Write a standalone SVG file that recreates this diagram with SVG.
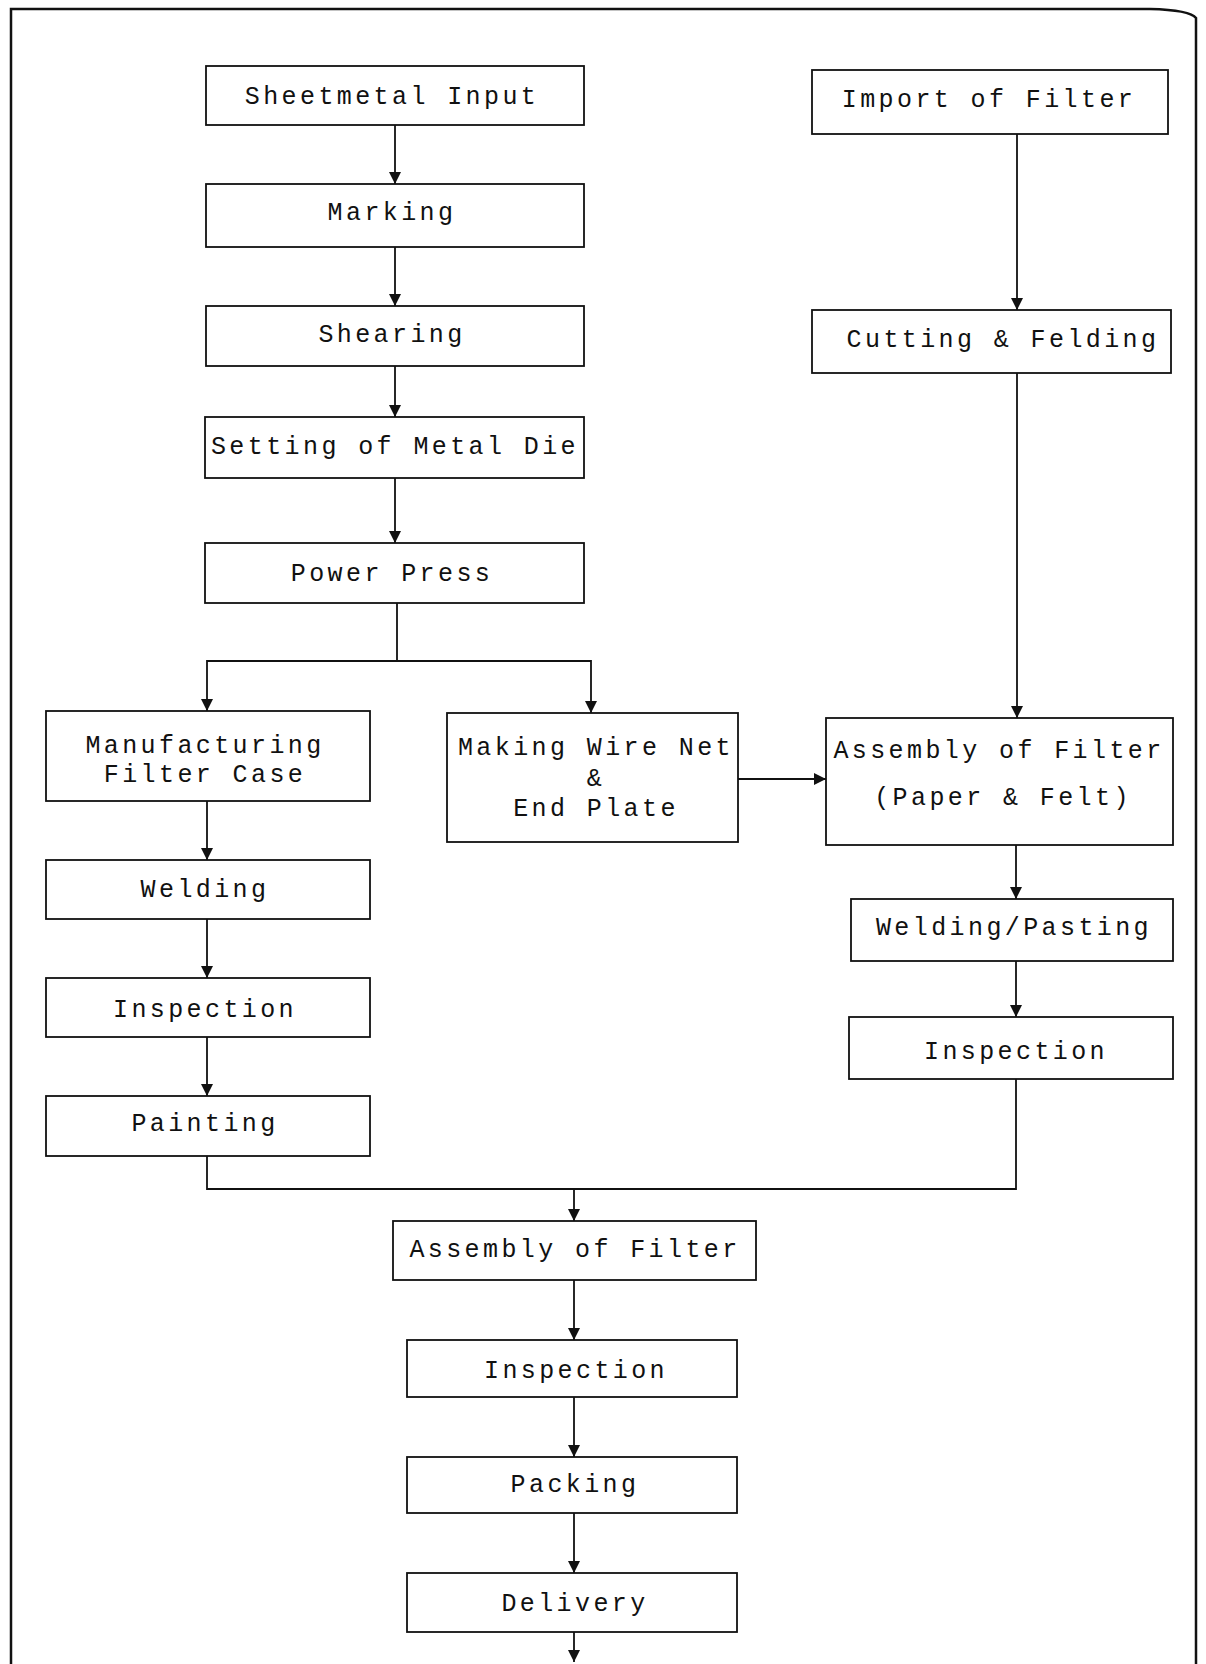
<svg xmlns="http://www.w3.org/2000/svg" width="1206" height="1664" viewBox="0 0 1206 1664">
<defs>
<style>
.box{fill:none;stroke:#111;stroke-width:1.8}
.t{font-family:"Liberation Mono","DejaVu Sans Mono",monospace;font-size:25px;letter-spacing:3.4px;fill:#111;text-anchor:middle}
.c{fill:none;stroke:#111;stroke-width:1.8}
.frame{fill:none;stroke:#111;stroke-width:2.5}
</style>
<marker id="ah" viewBox="0 0 10 10" refX="10" refY="5" markerWidth="14" markerHeight="12" markerUnits="userSpaceOnUse" orient="auto">
<path d="M0,0 L10,5 L0,10 Z" fill="#111"/>
</marker>
</defs>
<rect width="1206" height="1664" fill="#fff"/>
<path class="frame" d="M11,1664 L11,9 L1150,9 Q1190,10 1196,18 L1196,1664"/>

<g id="connectors">
<path class="c" d="M395,125 L395,184" marker-end="url(#ah)"/>
<path class="c" d="M395,247 L395,306" marker-end="url(#ah)"/>
<path class="c" d="M395,366 L395,417" marker-end="url(#ah)"/>
<path class="c" d="M395,478 L395,543" marker-end="url(#ah)"/>
<path class="c" d="M397,603 L397,661 L207,661 L207,711" marker-end="url(#ah)"/>
<path class="c" d="M397,661 L591,661 L591,713" marker-end="url(#ah)"/>
<path class="c" d="M207,801 L207,860" marker-end="url(#ah)"/>
<path class="c" d="M207,919 L207,978" marker-end="url(#ah)"/>
<path class="c" d="M207,1037 L207,1096" marker-end="url(#ah)"/>
<path class="c" d="M1017,134 L1017,310" marker-end="url(#ah)"/>
<path class="c" d="M1017,373 L1017,718" marker-end="url(#ah)"/>
<path class="c" d="M738,779 L826,779" marker-end="url(#ah)"/>
<path class="c" d="M1016,845 L1016,899" marker-end="url(#ah)"/>
<path class="c" d="M1016,961 L1016,1017" marker-end="url(#ah)"/>
<path class="c" d="M207,1156 L207,1189 L1016,1189 L1016,1079"/>
<path class="c" d="M574,1189 L574,1221" marker-end="url(#ah)"/>
<path class="c" d="M574,1280 L574,1340" marker-end="url(#ah)"/>
<path class="c" d="M574,1397 L574,1457" marker-end="url(#ah)"/>
<path class="c" d="M574,1513 L574,1573" marker-end="url(#ah)"/>
<path class="c" d="M574,1632 L574,1662" marker-end="url(#ah)"/>
</g>

<g id="sheetmetal-input"><rect class="box" x="206" y="66" width="378" height="59"/><text class="t" x="392" y="104">Sheetmetal Input</text></g>
<g id="marking"><rect class="box" x="206" y="184" width="378" height="63"/><text class="t" x="392" y="220">Marking</text></g>
<g id="shearing"><rect class="box" x="206" y="306" width="378" height="60"/><text class="t" x="392" y="342">Shearing</text></g>
<g id="setting-die"><rect class="box" x="205" y="417" width="379" height="61"/><text class="t" x="395" y="454">Setting of Metal Die</text></g>
<g id="power-press"><rect class="box" x="205" y="543" width="379" height="60"/><text class="t" x="392" y="581">Power Press</text></g>
<g id="mfg-filter-case"><rect class="box" x="46" y="711" width="324" height="90"/><text class="t" x="205" y="753">Manufacturing</text><text class="t" x="205" y="782">Filter Case</text></g>
<g id="wire-net"><rect class="box" x="447" y="713" width="291" height="129"/><text class="t" x="596" y="755">Making Wire Net</text><text class="t" x="596" y="786">&amp;</text><text class="t" x="596" y="816">End Plate</text></g>
<g id="welding"><rect class="box" x="46" y="860" width="324" height="59"/><text class="t" x="205" y="897">Welding</text></g>
<g id="inspection-left"><rect class="box" x="46" y="978" width="324" height="59"/><text class="t" x="205" y="1017">Inspection</text></g>
<g id="painting"><rect class="box" x="46" y="1096" width="324" height="60"/><text class="t" x="205" y="1131">Painting</text></g>
<g id="import-filter"><rect class="box" x="812" y="70" width="356" height="64"/><text class="t" x="989" y="107">Import of Filter</text></g>
<g id="cutting-felding"><rect class="box" x="812" y="310" width="359" height="63"/><text class="t" x="1003" y="347">Cutting &amp; Felding</text></g>
<g id="assembly-paper-felt"><rect class="box" x="826" y="718" width="347" height="127"/><text class="t" x="999" y="758">Assembly of Filter</text><text class="t" x="1003" y="805">(Paper &amp; Felt)</text></g>
<g id="welding-pasting"><rect class="box" x="851" y="899" width="322" height="62"/><text class="t" x="1014" y="935">Welding/Pasting</text></g>
<g id="inspection-right"><rect class="box" x="849" y="1017" width="324" height="62"/><text class="t" x="1016" y="1059">Inspection</text></g>
<g id="assembly-filter"><rect class="box" x="393" y="1221" width="363" height="59"/><text class="t" x="575" y="1257">Assembly of Filter</text></g>
<g id="inspection-final"><rect class="box" x="407" y="1340" width="330" height="57"/><text class="t" x="576" y="1378">Inspection</text></g>
<g id="packing"><rect class="box" x="407" y="1457" width="330" height="56"/><text class="t" x="575" y="1492">Packing</text></g>
<g id="delivery"><rect class="box" x="407" y="1573" width="330" height="59"/><text class="t" x="575" y="1611">Delivery</text></g>
</svg>
